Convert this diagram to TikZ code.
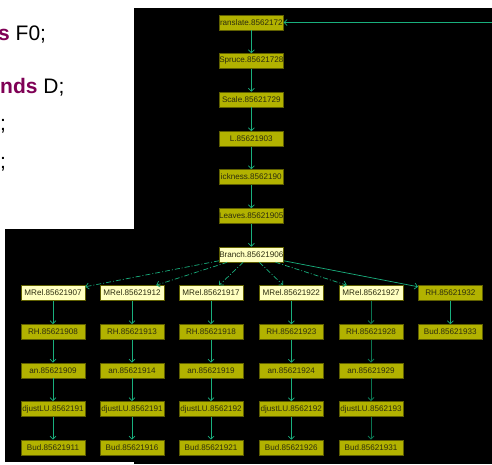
\documentclass[tikz,border=0pt]{standalone}
\usepackage{fontspec}
\setmainfont{Liberation Sans}
\usetikzlibrary{arrows.meta}
\definecolor{oliv}{RGB}{178,178,0}
\definecolor{olivb}{RGB}{95,95,0}
\definecolor{lyel}{RGB}{255,255,192}
\definecolor{ntext}{RGB}{45,45,15}
\definecolor{edg}{RGB}{25,175,125}
\definecolor{edgd}{RGB}{10,115,80}
\definecolor{kw}{RGB}{127,0,85}
\tikzset{
  dbox/.style={draw=olivb, fill=oliv, line width=0.6pt, minimum width=64pt, minimum height=15pt,
    inner sep=0pt, text=ntext, font=\fontsize{8.1}{9}\selectfont},
  lbox/.style={dbox, fill=lyel},
  link/.style={draw=edg, line width=0.7pt, -{Straight Barb[length=3pt,width=6pt]}},
  linkd/.style={link, draw=edgd, line width=1pt},
  dlink/.style={link, dash pattern=on 5pt off 2pt on 1pt off 2pt},
  code/.style={anchor=base west, inner sep=0pt, font=\fontsize{21}{24}\selectfont}
}
\begin{document}
\begin{tikzpicture}[x=1pt,y=-1pt]
\useasboundingbox (0,0) rectangle (492,464);
\fill[white] (0,0) rectangle (492,464);
\fill[black] (134,8) rectangle (492,464);
\fill[black] (5,229) rectangle (492,462);
% code text
\node[code] (c1) at (-2,40) {\textcolor{kw}{\textbf{s}} F0;};
\node[code] (c2) at (0,93) {\textcolor{kw}{\textbf{nds}} D;};
\node[code] (c3) at (0,130) {;};
\node[code] (c4) at (0,168) {;};
% top column
\node[dbox] (tr) at (251.3,22.5) {ranslate.8562172};
\node[dbox] (sp) at (251.3,61) {Spruce.85621728};
\node[dbox] (sc) at (251.3,99.5) {Scale.85621729};
\node[dbox] (l) at (251.3,139) {L.85621903};
\node[dbox] (th) at (251.3,177) {ickness.8562190};
\node[dbox] (le) at (251.3,216) {Leaves.85621905};
\node[lbox] (br) at (251.3,254.5) {Branch.85621906};
\coordinate (rin) at (492,22.5);
% columns
\foreach \c/\x/\a/\b/\cc/\d/\e in {1/53/07/08/09/1/11, 2/132/12/13/14/1/16, 3/211/17/18/19/2/21, 4/291.3/22/23/24/2/26, 5/371/27/28/29/3/31}{
  \node[lbox] (m\c) at (\x,293) {MRel.856219\a};
  \node[dbox] (rh\c) at (\x,332) {RH.856219\b};
  \node[dbox] (an\c) at (\x,370.5) {an.856219\cc};
  \node[dbox] (ad\c) at (\x,409) {djustLU.856219\d};
  \node[dbox] (bu\c) at (\x,447.5) {Bud.856219\e};
}
\node[dbox] (rh6) at (450.3,293) {RH.85621932};
\node[dbox] (bu6) at (450.3,332) {Bud.85621933};
% edges
\draw[link] (rin) -- (tr);
\draw[link] (tr) -- (sp);
\draw[link] (sp) -- (sc);
\draw[link] (sc) -- (l);
\draw[link] (l) -- (th);
\draw[link] (th) -- (le);
\draw[link] (le) -- (br);
\foreach \c in {1,2,3,4}{
  \draw[dlink] (br) -- (m\c);
  \draw[link] (m\c) -- (rh\c);
  \draw[link] (rh\c) -- (an\c);
  \draw[link] (an\c) -- (ad\c);
  \draw[link] (ad\c) -- (bu\c);
}
\draw[dlink] (br) -- (m5);
\draw[linkd] (m5) -- (rh5);
\draw[linkd] (rh5) -- (an5);
\draw[linkd] (an5) -- (ad5);
\draw[linkd] (ad5) -- (bu5);
\draw[link] (br) -- (rh6);
\draw[link] (rh6) -- (bu6);
\end{tikzpicture}
\end{document}
